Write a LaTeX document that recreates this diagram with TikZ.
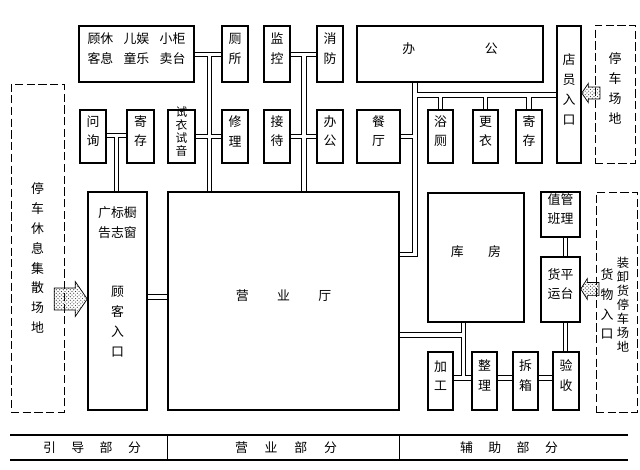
\documentclass[tikz,border=0pt]{standalone}
\usepackage{fontspec}
\newfontfamily\cjk{Noto Sans CJK SC}
\usetikzlibrary{positioning,fit,patterns}
\newcommand{\lbl}{\cjk\fontsize{11}{17}\selectfont}
\newcommand{\lblsm}{\cjk\fontsize{10}{11}\selectfont}
\newcommand{\lbltight}{\cjk\fontsize{10.5}{12}\selectfont}
\pgfdeclarelayer{bg}
\pgfsetlayers{bg,main}
\tikzset{
  room/.style={draw,line width=1.3pt,fill=white,inner sep=0pt,align=center,font=\lbl},
  yard/.style={draw,dash pattern=on 7pt off 3pt,line width=0.8pt,inner sep=0pt,align=center,font=\lbl},
  txt/.style={align=center,font=\lbl,inner sep=0pt},
  gate/.style={draw,line width=0.6pt,pattern=crosshatch dots,pattern color=black!75},
  rule/.style={line width=1.6pt}
}

\begin{document}
\begin{tikzpicture}[x=0.03cm,y=-0.03cm]
\useasboundingbox (0,0) rectangle (640,469);

% top row
\node[room, fit={(79,26) (194,82)}] (guxiu) {顾休\hspace{0.8em}儿娱\hspace{0.8em}小柜\\客息\hspace{0.8em}童乐\hspace{0.8em}卖台};
\node[room, fit={(222,26) (248,82)}] (cesuo) {厕\\所};
\node[room, fit={(264,26) (290,82)}] (jiankong) {监\\控};
\node[room, fit={(317,26) (343,82)}] (xiaofang) {消\\防};
\node[room, fit={(357,26) (543,82)}] (bangong) {办\hspace{5.4em}公};
\node[room, fit={(557,26) (581,163)}] (dianyuan) {店\\员\\入\\口};
\node[yard, fit={(595,25) (635,163)}] (tingche) {停\\车\\场\\地};

% second row
\node[room, fit={(80,110) (106,163)}] (wenxun) {问\\询};
\node[room, fit={(127,110) (154,163)}] (jicunA) {寄\\存};
\node[room, fit={(168,110) (195,163)}, font=\lblsm] (shiyin) {试\\衣\\试\\音};
\node[room, fit={(222,110) (248,163)}] (xiuli) {修\\理};
\node[room, fit={(264,110) (290,163)}] (jiedai) {接\\待};
\node[room, fit={(317,110) (343,163)}] (bangongB) {办\\公};
\node[room, fit={(357,110) (400,163)}] (canting) {餐\\厅};
\node[room, fit={(428,110) (453,163)}] (yuce) {浴\\厕};
\node[room, fit={(473,110) (498,163)}] (gengyi) {更\\衣};
\node[room, fit={(516,110) (542,163)}] (jicunB) {寄\\存};

% entrance, hall, store
\node[yard, fit={(11,84) (64,412)}] (jisan) {};
\node[txt] (jisantxt) at (37.5,258) {停\\车\\休\\息\\集\\散\\场\\地};
\node[room, fit={(88,192) (147,410)}] (guanggao) {};
\node[txt, below=13pt of guanggao.north] (chuchuang) {广标橱\\告志窗};
\node[txt, below=40pt of chuchuang] (gukerk) {顾\\客\\入\\口};
\node[room, fit={(168,192) (399,410)}] (yingye) {营\hspace{2.2em}业\hspace{2.2em}厅};
\node[room, fit={(428,193) (524,322)}] (kufang) {库\hspace{1.9em}房};
\node[room, fit={(541,192) (580,237)}] (zhiban) {值管\\班理};
\node[room, fit={(541,257) (580,322)}] (huoyun) {货平\\运台};
\node[room, fit={(428,352) (453,410)}] (jiagong) {加\\工};
\node[room, fit={(472,352) (497,410)}] (zhengli) {整\\理};
\node[room, fit={(513,352) (538,410)}] (chaixiang) {拆\\箱};
\node[room, fit={(553,352) (579,410)}] (yanshou) {验\\收};
\node[yard, fit={(596,192) (637,412)}] (zhuangxie) {};
\node[txt] (huowu) at (607,304) {货\\物\\入\\口};
\node[txt, font=\lbltight] (zxtxt) at (623,304.5) {装\\卸\\货\\停\\车\\场\\地};

% corridor joints
\coordinate (ja) at (209.5,54.5);
\coordinate (jb) at (304,54.5);
\coordinate (jc) at (116.5,135.5);
\coordinate (jd) at (415,95);
\coordinate (je) at (463.5,335);
\coordinate (jf) at (565.5,300);

\begin{pgfonlayer}{bg}
\foreach \hw/\hc in {5pt/black,3.2pt/white}
  \draw[line width=\hw,\hc]
    (guxiu.east |- ja) -- (cesuo.west |- ja)
    (ja) -- (ja |- yingye.north)
    (shiyin.east |- 0,136.5) -- (xiuli.west |- 0,136.5)
    (jiankong.east |- jb) -- (xiaofang.west |- jb)
    (jb) -- (jb |- yingye.north)
    (jiedai.east |- 0,136.5) -- (bangongB.west |- 0,136.5)
    (wenxun.east |- jc) -- (jicunA.west |- jc)
    (jc) -- (jc |- guanggao.north)
    (guanggao.east |- 0,297) -- (yingye.west |- 0,297)
    (jd |- bangong.south) -- (jd |- 0,254.5) -- (yingye.east |- 0,254.5)
    (jd) -- (dianyuan.west |- jd)
    (yuce.north |- jd) -- (yuce.north)
    (gengyi.north |- jd) -- (gengyi.north)
    (jicunB.north |- jd) -- (jicunB.north)
    (canting.east) -- (jd |- canting.east)
    (yingye.east |- je) -- (je)
    (je |- kufang.south) -- (je |- 0,378)
    (jiagong.east |- 0,378) -- (zhengli.west |- 0,378)
    (zhengli.east |- 0,378) -- (chaixiang.west |- 0,378)
    (chaixiang.east |- 0,378) -- (yanshou.west |- 0,378)
    (jf |- zhiban.south) -- (jf |- huoyun.north)
    (jf |- huoyun.south) -- (jf |- yanshou.north);
\end{pgfonlayer}

% entrance arrows
\draw[gate, shift={(guanggao.west |- 0,299)}] (0,0) -- (-12,-17.5) -- (-12,-11) -- (-33,-11)
  -- (-33,11) -- (-12,11) -- (-12,17.5) -- cycle;
\draw[gate, shift={(dianyuan.east |- 0,93)}, xscale=-0.55, yscale=0.55] (0,0) -- (-12,-17.5) -- (-12,-11)
  -- (-33,-11) -- (-33,11) -- (-12,11) -- (-12,17.5) -- cycle;
\draw[gate, shift={(huoyun.east |- 0,289)}, xscale=-0.55, yscale=0.6] (0,0) -- (-12,-17.5) -- (-12,-11)
  -- (-33,-11) -- (-33,11) -- (-12,11) -- (-12,17.5) -- cycle;

% parts table
\draw[rule] (10,435) -- (628,435);
\draw[rule] (10,460) -- (628,460);
\draw[line width=0.8pt] (167,435) -- (167,460);
\draw[line width=0.8pt] (399,435) -- (399,460);
\node[txt] (yindao) at (92,448) {引\hspace{1.2em}导\hspace{1.2em}部\hspace{1.2em}分};
\node[txt] (yingyebf) at (286,448) {营\hspace{1.3em}业\hspace{1.3em}部\hspace{1.3em}分};
\node[txt] (fuzhu) at (509,448) {辅\hspace{1.2em}助\hspace{1.2em}部\hspace{1.2em}分};
\end{tikzpicture}
\end{document}
